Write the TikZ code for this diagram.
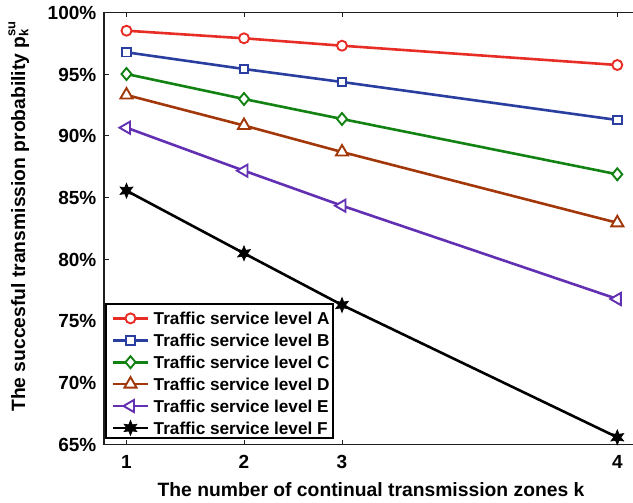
\documentclass[tikz,border=0pt]{standalone}
\usepackage{fontspec}
\setmainfont{Liberation Sans}
\usetikzlibrary{shapes.geometric}

\definecolor{serA}{RGB}{232,44,38}
\definecolor{serB}{RGB}{42,62,160}
\definecolor{serC}{RGB}{18,130,18}
\definecolor{serD}{RGB}{162,56,10}
\definecolor{serE}{RGB}{98,48,178}
\definecolor{serF}{RGB}{0,0,0}
\definecolor{axisc}{RGB}{30,30,30}

\begin{document}
\begin{tikzpicture}[x=1pt,y=-1pt,
  font=\bfseries,
  series/.style={line width=2.6pt, line join=round},
  mk/.style={line width=1.9pt, fill=white, inner sep=0pt, outer sep=0pt},
  mkcirc/.style={mk, circle, minimum size=10pt},
  mksq/.style={mk, rectangle, minimum size=8.5pt},
  mkdia/.style={mk, diamond, minimum width=10pt, minimum height=12pt},
  mkup/.style={mk, regular polygon, regular polygon sides=3, minimum size=14pt},
  mkleft/.style={mkup, shape border rotate=90},
  mkstar/.style={mk, star, star points=6, star point ratio=2.1, minimum size=15pt},
  ticklab/.style={inner sep=0pt, font=\fontsize{19}{19}\selectfont\bfseries},
  leglab/.style={inner sep=0pt, anchor=base west, font=\fontsize{17.2}{17.2}\selectfont\bfseries},
  axlab/.style={inner sep=0pt, anchor=base, font=\fontsize{19.3}{19.3}\selectfont\bfseries},
  axisline/.style={draw=axisc, line width=1.3pt},
  tickline/.style={draw=axisc, line width=1pt}]

\useasboundingbox (0,0) rectangle (633,503);

% axes frame (right side lies outside the page)
\coordinate (ax-tl) at (104,12.5);
\coordinate (ax-bl) at (104,444.5);
\coordinate (ax-tr) at (633,12.5);
\coordinate (ax-br) at (633,444.5);
\draw[axisline] (ax-tr) -- (ax-tl) -- (ax-bl) -- (ax-br);

% x ticks and labels
\foreach \k/\xp in {1/126.5, 2/244, 3/342, 4/617.3} {
  \coordinate (xb\k) at (\xp,444.5);
  \coordinate (xbi\k) at (\xp,439.5);
  \coordinate (xt\k) at (\xp,12.5);
  \coordinate (xti\k) at (\xp,17.5);
  \draw[tickline] (xb\k) -- (xbi\k);
  \draw[tickline] (xt\k) -- (xti\k);
  \node[ticklab, anchor=base] (xl\k) at (\xp,468) {\k};
}

% y ticks and labels
\foreach \v [count=\j] in {100,95,90,85,80,75,70,65} {
  \pgfmathsetmacro{\yp}{12.5+(100-\v)*12.343}
  \coordinate (yl\j) at (104,\yp);
  \coordinate (yli\j) at (109,\yp);
  \draw[tickline] (yl\j) -- (yli\j);
  \node[ticklab, anchor=base east] (ylab\j) at (96.5,\yp+6.8) {\v\%};
}

% axis titles
\node[axlab] (xtitle) at (371,496) {The number of continual transmission zones k};
\node[axlab, rotate=90] (ytitle) at (25,216.5)
  {The succesful transmission probability p\rlap{\raisebox{-0.32ex}{\fontsize{13}{13}\selectfont k}}\raisebox{0.95ex}{\fontsize{13}{13}\selectfont su}};

% data points
\foreach \s/\ya/\yb/\yc/\yd in {
  A/30.7/38.3/45.7/65,
  B/52.3/69/82/120,
  C/74/99/119/174.3,
  D/95/125.5/152/222.8,
  E/127.7/170.7/205.7/299,
  F/190.7/253.3/305/437.3} {
  \coordinate (\s1) at (126.5,\ya);
  \coordinate (\s2) at (244,\yb);
  \coordinate (\s3) at (342,\yc);
  \coordinate (\s4) at (617.3,\yd);
}

% curves with markers
\foreach \s/\m in {A/mkcirc, B/mksq, C/mkdia, D/mkup, E/mkleft} {
  \draw[series, draw=ser\s] (\s1) -- (\s2) -- (\s3) -- (\s4);
  \foreach \i in {1,...,4}
    \node[\m, draw=ser\s] (m\s\i) at (\s\i) {};
}
\draw[series, draw=serF] (F1) -- (F2) -- (F3) -- (F4);
\foreach \i in {1,...,4}
  \node[mkstar, draw=serF, fill=serF, line width=0.6pt] (mF\i) at (F\i) {};

% legend
\node[draw=black, line width=2pt, fill=white, inner sep=0pt, outer sep=0pt,
      minimum width=227pt, minimum height=134pt, anchor=north west] (legend) at (106,304) {};
\foreach \s/\m/\name [count=\j] in {A/mkcirc/A, B/mksq/B, C/mkdia/C, D/mkup/D, E/mkleft/E} {
  \pgfmathsetmacro{\ly}{318.4+(\j-1)*21.9}
  \coordinate (lgs\s) at (113,\ly);
  \coordinate (lge\s) at (148,\ly);
  \draw[series, draw=ser\s] (lgs\s) -- (lge\s);
  \node[\m, draw=ser\s] (lgm\s) at (130.5,\ly) {};
  \node[leglab] (lgt\s) at (153.5,\ly+6.3) {Traffic service level \name};
}
\coordinate (lgsF) at (113,427.9);
\coordinate (lgeF) at (148,427.9);
\draw[series, draw=serF] (lgsF) -- (lgeF);
\node[mkstar, draw=serF, fill=serF, line width=0.6pt] (lgmF) at (130.5,427.9) {};
\node[leglab] (lgtF) at (153.5,434.2) {Traffic service level F};

\end{tikzpicture}
\end{document}
